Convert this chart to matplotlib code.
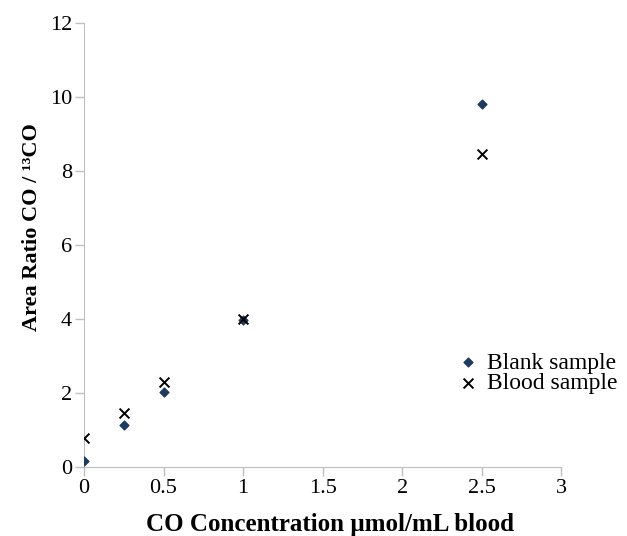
import matplotlib
matplotlib.use('Agg')
import matplotlib.pyplot as plt

plt.rcParams['font.family'] = ['Liberation Serif', 'DejaVu Serif']

# data
conc = [0, 0.25, 0.5, 1, 2.5]
blank = [0.16, 1.13, 2.03, 3.98, 9.8]
blood = [0.78, 1.45, 2.3, 4.0, 8.45]

fig = plt.figure(figsize=(6.27, 5.36), dpi=100)
ax = fig.add_axes([0.134, 0.129, 0.761, 0.828])

ax.scatter(conc, blank, marker='D', s=20, color='#1f3a5f', label='Blank sample', zorder=3)
ax.scatter(conc, blood, marker='x', s=50, color='black', linewidths=1.4, label='Blood sample', zorder=4)

ax.set_xlim(0, 3)
ax.set_ylim(0, 12)
ax.set_xticks([0, 0.5, 1, 1.5, 2, 2.5, 3])
ax.set_xticklabels(['0', '0.5', '1', '1.5', '2', '2.5', '3'])
ax.set_yticks(range(0, 13, 2))

for side in ['top', 'right']:
    ax.spines[side].set_visible(False)
for side in ['left', 'bottom']:
    ax.spines[side].set_color('#bfbfbf')
ax.tick_params(colors='#bfbfbf', labelcolor='black', labelsize=16, length=6.5, width=1,
               direction='out', pad=2)

ax.set_xlabel('CO Concentration µmol/mL blood', fontsize=18, fontweight='bold')
ax.xaxis.set_label_coords(0.516, -0.103)
ax.set_ylabel('Area Ratio CO / ¹³CO', fontsize=16, fontweight='bold')
ax.yaxis.set_label_coords(-0.088, 0.54)

fig.legend(loc='center left', bbox_to_anchor=(0.729, 0.304), frameon=False,
           fontsize=17, handlelength=0.95, handletextpad=0.3, labelspacing=-0.05,
           borderaxespad=0, borderpad=0)

fig.savefig('out.png', dpi=100)
